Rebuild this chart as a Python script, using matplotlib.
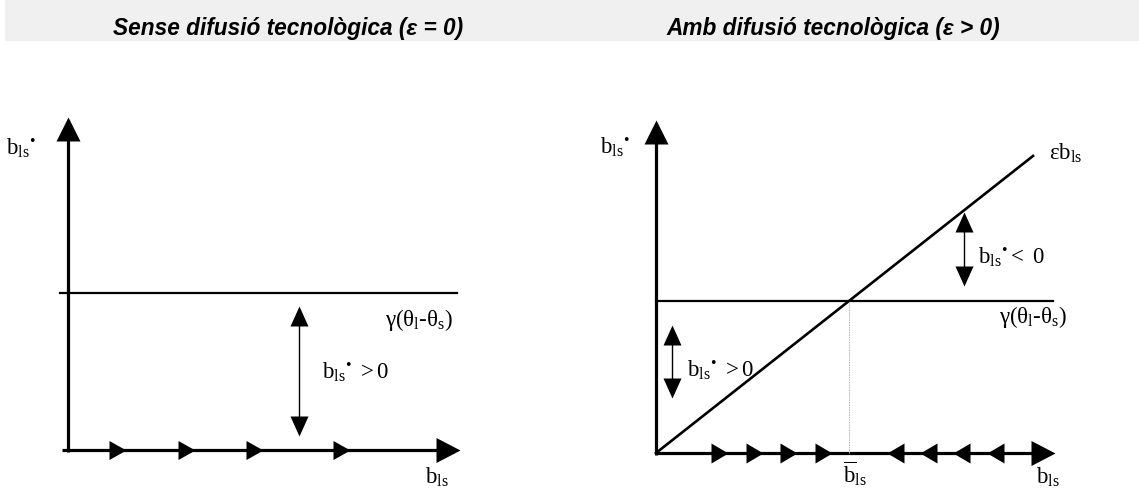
import matplotlib
matplotlib.use("Agg")
import matplotlib.pyplot as plt

plt.rcParams["mathtext.fontset"] = "custom"
plt.rcParams["mathtext.rm"] = "Liberation Serif"
plt.rcParams["mathtext.it"] = "Liberation Serif:italic"
plt.rcParams["mathtext.bf"] = "Liberation Serif:bold"

W, H, DPI = 1139, 489, 100

# ---- diagram values (model units) ----
titles = ["Sense difusió tecnològica (ε = 0)", "Amb difusió tecnològica (ε > 0)"]
axis_len = 10.0

# panel without diffusion
gamma_left = 4.7
flow_left = [1.48, 3.24, 4.97, 7.19]          # rightward flow along the b_ls axis
gap_arrow_left = (5.89, 0.42, 4.32)           # x, y_low, y_high

# panel with diffusion
gamma_right = 4.56
epsilon = 0.944
line_end_right = 9.45
b_bar = gamma_right / epsilon
flow_right_pos = [1.80, 2.68, 3.53, 4.41]     # rightward (below steady state)
flow_right_neg = [5.79, 6.62, 7.44, 8.30]     # leftward (above steady state)
gap_arrow_upper = (7.72, 5.02, 7.24)
gap_arrow_lower = (0.40, 1.65, 3.84)

fig = plt.figure(figsize=(W / DPI, H / DPI), dpi=DPI)
fig.patch.set_facecolor("white")

# title band
band = fig.add_axes([0, 0, 1, 1])
band.set_xlim(0, W)
band.set_ylim(H, 0)
band.axis("off")
band.add_patch(plt.Rectangle((5, 0), W - 5, 42, facecolor="#f0f0f0", edgecolor="none"))
for cx, t in zip([288, 833], titles):
    band.text(cx, 28, t, ha="center", va="center", fontsize=16.3,
              family="Liberation Sans", weight="bold", style="italic")


def panel(ox, oy, sx, sy):
    ax = fig.add_axes([0, 0, 1, 1])
    ax.set_xlim(-ox / sx, (W - ox) / sx)
    ax.set_ylim(-(H - oy) / sy, oy / sy)
    ax.axis("off")
    ax.patch.set_alpha(0)
    return ax


def head(ax, x, y, direction, length_px, width_px):
    L, hw = length_px, width_px / 2.0
    if direction == "right":
        v = [(0, 0), (-L, hw), (-L, -hw), (0, 0)]
    elif direction == "left":
        v = [(0, 0), (L, hw), (L, -hw), (0, 0)]
    elif direction == "up":
        v = [(0, 0), (-hw, -L), (hw, -L), (0, 0)]
    else:
        v = [(0, 0), (-hw, L), (hw, L), (0, 0)]
    r = max(max(abs(a), abs(b)) for a, b in v)
    ms = 2 * r * 72 / DPI
    ax.plot([x], [y], marker=v, markersize=ms, color="k", markeredgewidth=0,
            linestyle="none", zorder=5)


def axes_arrows(ax, sx, sy, x0=0.0):
    L = 24
    ax.plot([x0, axis_len - (L * 0.5) / sx], [0, 0], color="k", lw=2.3,
            solid_capstyle="butt")
    head(ax, axis_len, 0, "right", L, 25)
    ax.plot([0, 0], [-0.05, axis_len - (L * 0.5) / sy], color="k", lw=2.3,
            solid_capstyle="butt")
    head(ax, 0, axis_len, "up", L, 24)


def double_arrow(ax, x, y0, y1, sy):
    L = 20
    ax.plot([x, x], [y0 + L * 0.5 / sy, y1 - L * 0.5 / sy], color="k", lw=1.0)
    head(ax, x, y1, "up", L, 18)
    head(ax, x, y0, "down", L, 18)


serif = "Liberation Serif"
FS = 16.5
bdot = r"$\mathrm{b_{ls}}^{•}$"

# ---------- left panel ----------
sxL, syL = 39.2, 33.3
axL = panel(68, 451, sxL, syL)
axes_arrows(axL, sxL, syL, x0=-0.15)
axL.plot([-0.2, 9.92], [gamma_left, gamma_left], color="k", lw=1.6)
for xt in flow_left:
    head(axL, xt, 0, "right", 17, 19)
double_arrow(axL, *gap_arrow_left, syL)

axL.text(-1.2, 9.1, bdot, ha="center", va="center", fontsize=FS, family=serif)
axL.text(9.82, 3.93, r"$\mathrm{γ(θ_l‐θ_s)}$", ha="right", va="center",
         fontsize=FS, family=serif)
axL.text(6.48, 2.37, r"$\mathrm{b_{ls}}^{•}\ \mathrm{>0}$", ha="left",
         va="center", fontsize=FS, family=serif)
axL.text(9.41, -0.78, r"$\mathrm{b_{ls}}$", ha="center", va="center",
         fontsize=FS, family=serif)

# ---------- right panel ----------
sxR, syR = 39.9, 33.3
axR = panel(656, 454, sxR, syR)
axes_arrows(axR, sxR, syR)
axR.plot([0, 9.95], [gamma_right, gamma_right], color="k", lw=1.6)
axR.plot([0, line_end_right], [0, epsilon * line_end_right], color="k", lw=1.9)
axR.plot([b_bar, b_bar], [0, gamma_right], color="#b0b0b0", lw=0.6,
         linestyle=(0, (2, 1)))
for xt in flow_right_pos:
    head(axR, xt, 0, "right", 17, 20)
for xt in flow_right_neg:
    head(axR, xt, 0, "left", 17, 20)
double_arrow(axR, *gap_arrow_upper, syR)
double_arrow(axR, *gap_arrow_lower, syR)

axR.text(-1.03, 9.22, bdot, ha="center", va="center", fontsize=FS, family=serif)
axR.text(9.85, 9.04, r"$\mathrm{εb_{ls}}$", ha="left", va="center",
         fontsize=FS, family=serif)
axR.text(8.07, 5.92, r"$\mathrm{b_{ls}}^{•}\mathrm{<\ 0}$", ha="left",
         va="center", fontsize=FS, family=serif)
axR.text(10.3, 4.11, r"$\mathrm{γ(θ_l‐θ_s)}$", ha="right", va="center",
         fontsize=FS, family=serif)
axR.text(0.78, 2.52, r"$\mathrm{b_{ls}}^{•}\ \mathrm{>0}$", ha="left",
         va="center", fontsize=FS, family=serif)
axR.text(b_bar + 0.15, -0.6, r"$\overline{\mathrm{b}}_{\mathrm{ls}}$",
         ha="center", va="center", fontsize=FS, family=serif)
axR.text(9.82, -0.7, r"$\mathrm{b_{ls}}$", ha="center", va="center",
         fontsize=FS, family=serif)

fig.savefig("out.png", dpi=DPI)
